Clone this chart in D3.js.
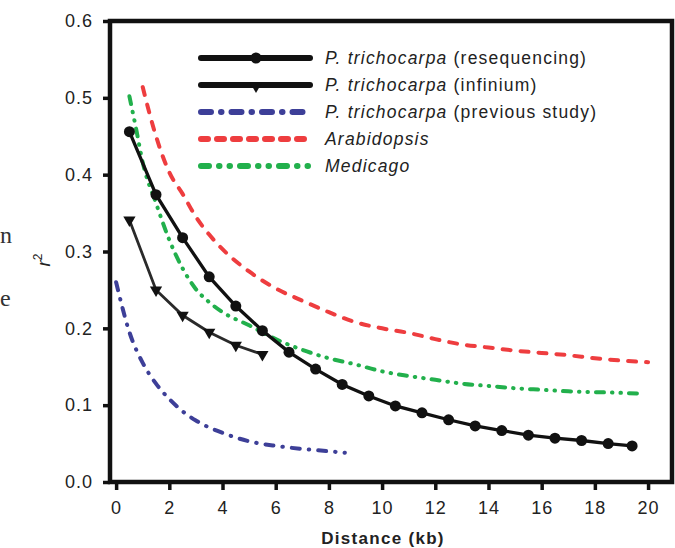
<!DOCTYPE html>
<html>
<head>
<meta charset="utf-8">
<script src="https://cdn.jsdelivr.net/npm/d3@7"></script>
<style>
  html, body { margin: 0; padding: 0; background: #fff; }
  svg { display: block; }
  .tick text { font-family: "Liberation Sans", Arial, sans-serif; font-size: 18px; letter-spacing: 1px; fill: #222; }
  .legend text { font-family: "Liberation Sans", Arial, sans-serif; font-size: 17.5px; letter-spacing: 1.2px; fill: #222; }
  .xlabel { font-family: "Liberation Sans", Arial, sans-serif; font-size: 17px; font-weight: bold; letter-spacing: 1.3px; fill: #222; }
  .ylabel { font-family: "Liberation Sans", Arial, sans-serif; font-size: 19px; font-style: italic; fill: #222; }
  .margin-text { font-family: "Liberation Serif", serif; font-size: 24px; fill: #333; }
</style>
</head>
<body>
<svg id="chart" width="675" height="548"></svg>
<script>
// values (distance in kb, r^2)
const resequencingX = [0.5, 1.5, 2.5, 3.5, 4.5, 5.5, 6.5, 7.5, 8.5, 9.5, 10.5, 11.5, 12.5, 13.5, 14.5, 15.5, 16.5, 17.5, 18.5, 19.4]
const resequencingR2 = [0.456, 0.374, 0.318, 0.267, 0.229, 0.197, 0.169, 0.147, 0.127, 0.112, 0.099, 0.090, 0.081, 0.073, 0.067, 0.061, 0.057, 0.054, 0.050, 0.047]

const infiniumX = [0.5, 1.5, 2.5, 3.5, 4.5, 5.5]
const infiniumR2 = [0.341, 0.250, 0.217, 0.195, 0.178, 0.166]

const previousX = [0, 0.5, 1, 1.5, 2, 2.5, 3, 4, 5, 6, 7, 8, 8.6]
const previousR2 = [0.260, 0.195, 0.155, 0.128, 0.108, 0.092, 0.080, 0.064, 0.053, 0.047, 0.043, 0.040, 0.038]

const arabidopsisX = [1, 1.5, 2, 2.5, 3, 3.5, 4, 5, 6, 7, 8, 9, 10, 11, 12, 13, 14, 15, 16, 17, 18, 19, 20]
const arabidopsisR2 = [0.514, 0.450, 0.403, 0.375, 0.345, 0.322, 0.303, 0.274, 0.252, 0.236, 0.221, 0.208, 0.200, 0.194, 0.186, 0.179, 0.175, 0.171, 0.168, 0.165, 0.161, 0.158, 0.156]

const medicagoX = [0.5, 0.75, 1, 1.5, 2, 2.5, 3, 3.5, 4, 5, 6, 7, 8, 9, 10, 11, 12, 13, 14, 15, 16, 17, 18, 19, 19.7]
const medicagoR2 = [0.502, 0.460, 0.416, 0.363, 0.315, 0.278, 0.251, 0.234, 0.221, 0.204, 0.186, 0.172, 0.161, 0.153, 0.144, 0.138, 0.133, 0.128, 0.125, 0.122, 0.120, 0.118, 0.117, 0.116, 0.115]

const xTicks = [0, 2, 4, 6, 8, 10, 12, 14, 16, 18, 20]
const yTicks = [0, 0.1, 0.2, 0.3, 0.4, 0.5, 0.6]

const legendItalic = ['P. trichocarpa', 'P. trichocarpa', 'P. trichocarpa', 'Arabidopsis', 'Medicago']
const legendPlain = [' (resequencing)', ' (infinium)', ' (previous study)', '', '']

const svg = d3.select('#chart')

const x = d3.scaleLinear().domain([-0.23, 20.9]).range([110, 672])
const y = d3.scaleLinear().domain([0, 0.6]).range([482, 21])

const blue = '#3d3f98'
const red = '#ee3d3f'
const green = '#22b04c'
const ink = '#111'

// cropped text from the neighbouring column
svg.append('text').attr('class', 'margin-text').attr('x', 0).attr('y', 243).text('n')
svg.append('text').attr('class', 'margin-text').attr('x', 0).attr('y', 306).text('e')

// axes
const yAxis = svg.append('g')
  .attr('transform', `translate(${x.range()[0]},0)`)
  .call(d3.axisLeft(y).tickValues(yTicks).tickFormat(d3.format('.1f')).tickSize(7).tickPadding(10))
const xAxis = svg.append('g')
  .attr('transform', `translate(0,${y.range()[0]})`)
  .call(d3.axisBottom(x).tickValues(xTicks).tickSize(8).tickPadding(11))

for (const g of [xAxis, yAxis]) {
  g.select('.domain').remove()
  g.selectAll('.tick line').attr('stroke', ink).attr('stroke-width', 3.5)
}

// frame
svg.append('rect')
  .attr('x', x.range()[0])
  .attr('y', y.range()[1])
  .attr('width', x.range()[1] - x.range()[0])
  .attr('height', y.range()[0] - y.range()[1])
  .attr('fill', 'none')
  .attr('stroke', ink)
  .attr('stroke-width', 4.5)

const zip = (xs, ys) => xs.map((v, i) => [v, ys[i]])
const smooth = d3.line().x((d) => x(d[0])).y((d) => y(d[1])).curve(d3.curveMonotoneX)
const straight = d3.line().x((d) => x(d[0])).y((d) => y(d[1]))

// dash patterns (round caps add the stroke width to each dash)
const blueDash = '8 9 0.5 9'
const redDash = '8 10'
const greenDash = '8 8 0.5 8 0.5 8'

const plot = svg.append('g')

plot.append('path')
  .attr('d', smooth(zip(previousX, previousR2)))
  .attr('fill', 'none').attr('stroke', blue).attr('stroke-width', 4)
  .attr('stroke-linecap', 'round').attr('stroke-dasharray', blueDash)

plot.append('path')
  .attr('d', smooth(zip(arabidopsisX, arabidopsisR2)))
  .attr('fill', 'none').attr('stroke', red).attr('stroke-width', 4)
  .attr('stroke-linecap', 'round').attr('stroke-dasharray', redDash)

plot.append('path')
  .attr('d', smooth(zip(medicagoX, medicagoR2)))
  .attr('fill', 'none').attr('stroke', green).attr('stroke-width', 4)
  .attr('stroke-linecap', 'round').attr('stroke-dasharray', greenDash)

plot.append('path')
  .attr('d', straight(zip(infiniumX, infiniumR2)))
  .attr('fill', 'none').attr('stroke', '#2a2a2a').attr('stroke-width', 2.8)

const triangle = d3.symbol().type(d3.symbolTriangle).size(65)
plot.selectAll('.tri')
  .data(zip(infiniumX, infiniumR2))
  .join('path')
  .attr('class', 'tri')
  .attr('d', triangle)
  .attr('transform', (d) => `translate(${x(d[0])},${y(d[1])}) rotate(180)`)
  .attr('fill', ink)

plot.append('path')
  .attr('d', straight(zip(resequencingX, resequencingR2)))
  .attr('fill', 'none').attr('stroke', ink).attr('stroke-width', 3.3)

plot.selectAll('.dot')
  .data(zip(resequencingX, resequencingR2))
  .join('circle')
  .attr('class', 'dot')
  .attr('cx', (d) => x(d[0]))
  .attr('cy', (d) => y(d[1]))
  .attr('r', 5.5)
  .attr('fill', ink)

// legend
const legendStyles = [
  { color: ink, dash: null, marker: 'circle' },
  { color: ink, dash: null, marker: 'triangle' },
  { color: blue, dash: '10 10 0.5 10', marker: null },
  { color: red, dash: '7 9', marker: null },
  { color: green, dash: '8 10 0.5 10 0.5 10', marker: null }
]

const legend = svg.append('g').attr('class', 'legend')
legendItalic.forEach((label, i) => {
  const rowY = 58 + i * 27
  const s = legendStyles[i]
  const row = legend.append('g').attr('transform', `translate(0,${rowY})`)
  row.append('line')
    .attr('x1', 201).attr('x2', 310)
    .attr('stroke', s.color).attr('stroke-width', 6)
    .attr('stroke-linecap', 'round')
    .attr('stroke-dasharray', s.dash)
  if (s.marker === 'circle') {
    row.append('circle').attr('cx', 256).attr('r', 5.5).attr('fill', ink)
  } else if (s.marker === 'triangle') {
    row.append('path').attr('d', triangle).attr('transform', 'translate(256,1) rotate(180)').attr('fill', ink)
  }
  const t = row.append('text').attr('x', 325).attr('y', 6)
  t.append('tspan').attr('font-style', 'italic').text(label)
  if (legendPlain[i]) t.append('tspan').text(legendPlain[i])
})

// axis titles
svg.append('text')
  .attr('class', 'xlabel')
  .attr('x', 383).attr('y', 544)
  .attr('text-anchor', 'middle')
  .text('Distance (kb)')

const yl = svg.append('text')
  .attr('class', 'ylabel')
  .attr('transform', 'translate(50,260) rotate(-90)')
  .attr('text-anchor', 'middle')
yl.append('tspan').text('r')
yl.append('tspan').attr('dy', -8).attr('font-size', 12).attr('font-style', 'normal').text('2')
</script>
</body>
</html>
